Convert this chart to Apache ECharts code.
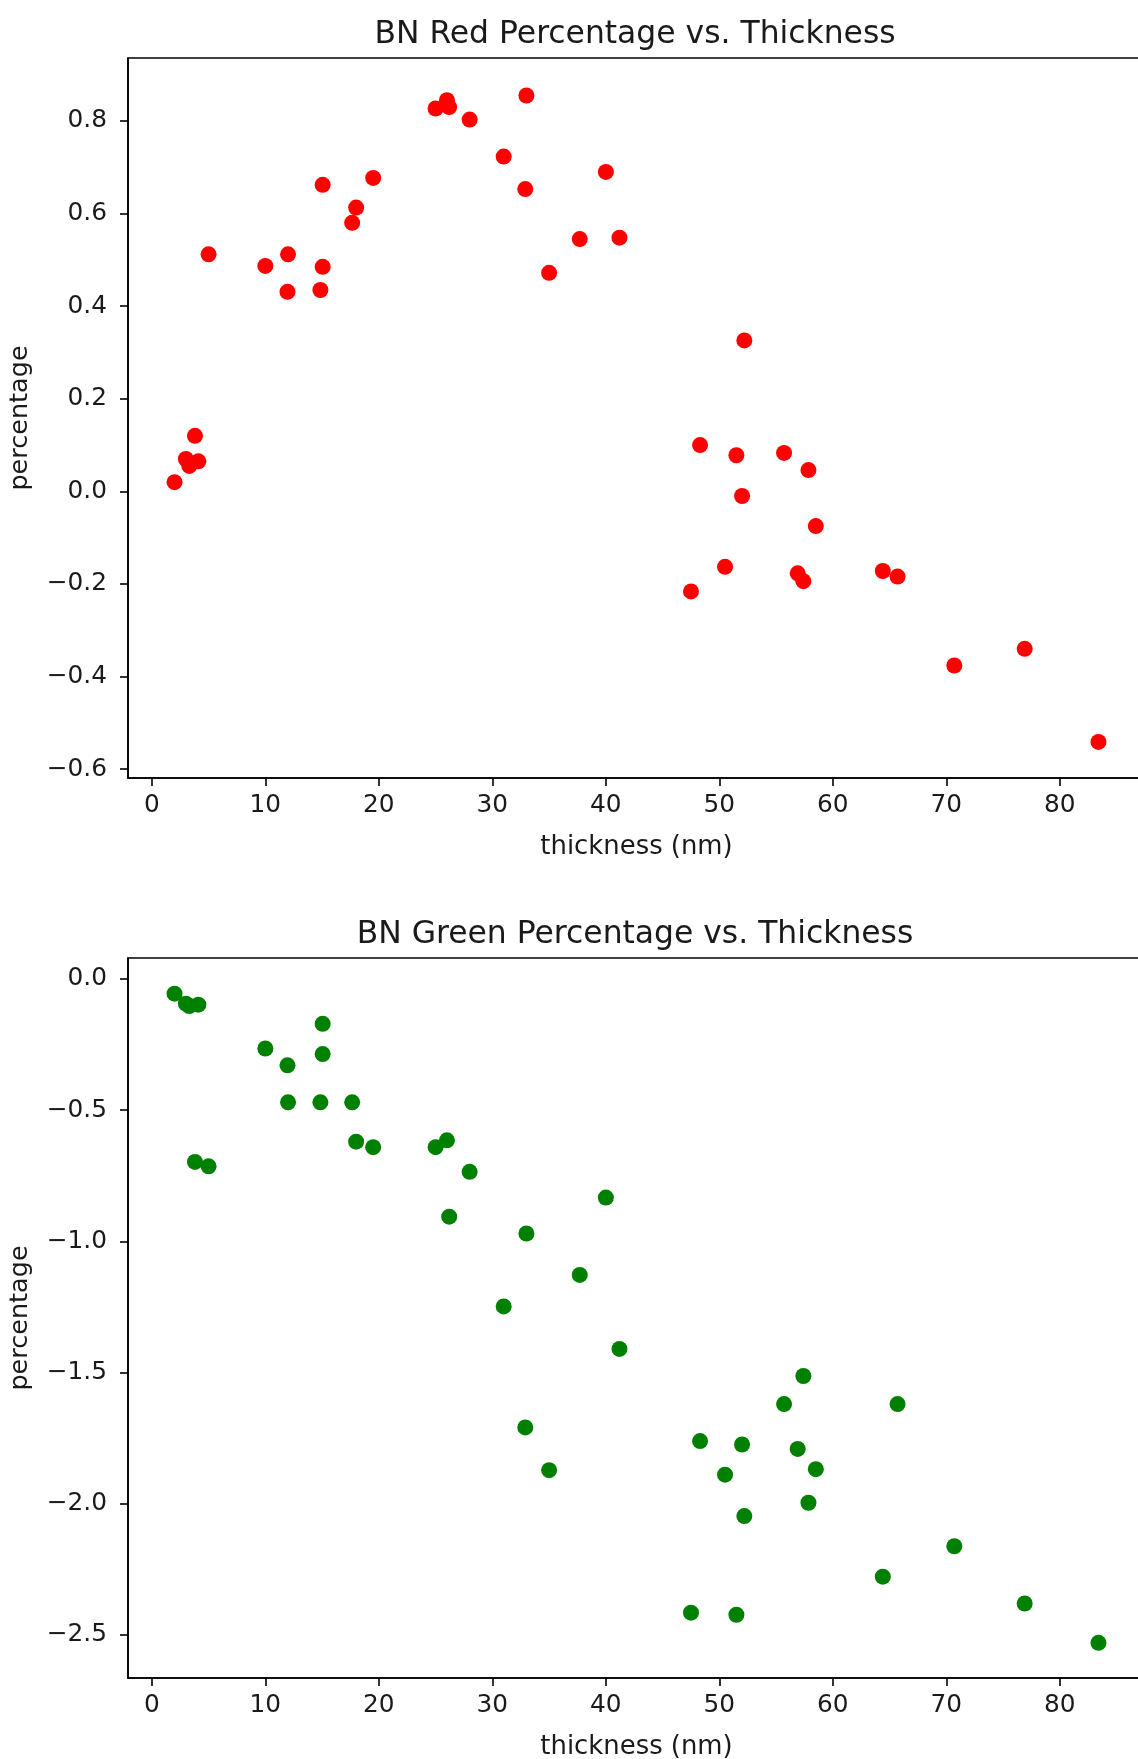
<!DOCTYPE html>
<html>
<head>
<meta charset="utf-8">
<script src="https://cdn.jsdelivr.net/npm/echarts@6/dist/echarts.min.js"></script>
<style>
html, body { margin: 0; padding: 0; background: #fff; }
#chart { width: 1138px; height: 1759px; }
</style>
</head>
<body>
<div id="chart"></div>
<script>
// thickness (nm) of each flake, with its red / green percentage
var thickness = [2.0, 3.0, 3.3, 4.1, 3.8, 5.0, 10.0, 12.0, 11.95, 15.05, 15.05, 14.85, 17.65, 18.0, 19.5,
    25.0, 26.0, 26.2, 28.0, 31.0, 33.0, 32.9, 35.0, 37.7, 40.0, 41.2,
    47.5, 48.3, 50.5, 51.5, 52.0, 52.2, 55.7, 56.9, 57.4, 57.85, 58.5, 64.4, 65.7, 70.7, 76.9, 83.4];
var redPct = [0.02, 0.07, 0.055, 0.065, 0.12, 0.512, 0.487, 0.512, 0.431, 0.662, 0.485, 0.435, 0.58, 0.613, 0.677,
    0.827, 0.845, 0.83, 0.803, 0.723, 0.855, 0.653, 0.472, 0.545, 0.69, 0.548,
    -0.216, 0.10, -0.163, 0.078, -0.01, 0.326, 0.083, -0.177, -0.194, 0.046, -0.075, -0.172, -0.184, -0.376, -0.34, -0.541];
var greenPct = [-0.056, -0.094, -0.103, -0.098, -0.697, -0.714, -0.265, -0.47, -0.329, -0.171, -0.286, -0.47, -0.47, -0.62, -0.641,
    -0.641, -0.615, -0.906, -0.735, -1.248, -0.97, -1.709, -1.872, -1.128, -0.833, -1.41,
    -2.415, -1.761, -1.889, -2.423, -1.774, -2.047, -1.62, -1.791, -1.513, -1.996, -1.868, -2.278, -1.62, -2.162, -2.38, -2.53];

var xTicks = [0, 10, 20, 30, 40, 50, 60, 70, 80];
var redTicks = [-0.6, -0.4, -0.2, 0.0, 0.2, 0.4, 0.6, 0.8];
var greenTicks = [-2.5, -2.0, -1.5, -1.0, -0.5, 0.0];

var FONT = 'DejaVu Sans';
var TXT = '#1a1a1a';

function fmt(v) {
    return v.toFixed(1).replace('-', '\u2212');
}

function xAxisFor(idx) {
    return {
        type: 'value', gridIndex: idx, min: -2.1, max: 87.5,
        name: 'thickness (nm)', nameLocation: 'middle', nameGap: 56,
        nameTextStyle: {fontFamily: FONT, fontSize: 25.9, color: TXT},
        axisLine: {show: true, onZero: false, lineStyle: {color: '#000', width: 1.6}},
        axisTick: {show: true, length: 8, customValues: xTicks, lineStyle: {color: '#000', width: 1.6}},
        axisLabel: {customValues: xTicks, margin: 15, fontFamily: FONT, fontSize: 24.8, color: TXT},
        splitLine: {show: false}
    };
}

function yAxisFor(idx, min, max, ticks) {
    return {
        type: 'value', gridIndex: idx, min: min, max: max,
        name: 'percentage', nameLocation: 'middle', nameGap: 95,
        nameTextStyle: {fontFamily: FONT, fontSize: 25.5, color: TXT},
        axisLine: {show: true, onZero: false, lineStyle: {color: '#000', width: 1.6}},
        axisTick: {show: true, length: 8, customValues: ticks, lineStyle: {color: '#000', width: 1.6}},
        axisLabel: {customValues: ticks, margin: 21, fontFamily: FONT, fontSize: 24.8, color: TXT,
            formatter: fmt},
        splitLine: {show: false}
    };
}

var chart = echarts.init(document.getElementById('chart'));

var option = {
    animation: false,
    backgroundColor: '#fff',
    title: [
        {text: 'BN Red Percentage vs. Thickness', left: 635, top: 19, padding: 0, textAlign: 'center',
            textStyle: {fontFamily: FONT, fontSize: 31.4, fontWeight: 'normal', color: TXT}},
        {text: 'BN Green Percentage vs. Thickness', left: 635, top: 919, padding: 0, textAlign: 'center',
            textStyle: {fontFamily: FONT, fontSize: 31.4, fontWeight: 'normal', color: TXT}}
    ],
    grid: [
        {left: 128, top: 58, width: 1017, height: 720, outerBoundsMode: 'none',
            show: true, borderColor: '#000', borderWidth: 1.6},
        {left: 128, top: 958, width: 1017, height: 720, outerBoundsMode: 'none',
            show: true, borderColor: '#000', borderWidth: 1.6}
    ],
    xAxis: [xAxisFor(0), xAxisFor(1)],
    yAxis: [
        yAxisFor(0, -0.619, 0.936, redTicks),
        yAxisFor(1, -2.664, 0.080, greenTicks)
    ],
    series: [
        {
            name: 'red', type: 'scatter', xAxisIndex: 0, yAxisIndex: 0,
            symbolSize: 16, itemStyle: {color: '#ff0000', opacity: 1},
            data: thickness.map(function (t, i) { return [t, redPct[i]]; })
        },
        {
            name: 'green', type: 'scatter', xAxisIndex: 1, yAxisIndex: 1,
            symbolSize: 16, itemStyle: {color: '#008000', opacity: 1},
            data: thickness.map(function (t, i) { return [t, greenPct[i]]; })
        }
    ]
};

chart.setOption(option);
</script>
</body>
</html>
